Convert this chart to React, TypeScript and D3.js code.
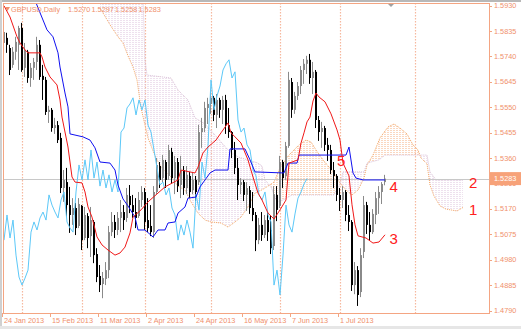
import React from "react";
import * as d3 from "d3";

// ---------- DATA ----------
const opens = [1.5790,1.5809,1.5771,1.5708,1.5757,1.5783,1.5846,1.5697,1.5757,1.5659,1.5697,1.5719,1.5783,1.5667,1.5652,1.5532,1.5540,1.5472,1.5483,1.5435,1.5248,1.5270,1.5184,1.5147,1.5173,1.5106,1.5181,1.5061,1.5143,1.5068,1.5121,1.5001,1.4919,1.4889,1.4908,1.4941,1.5083,1.5121,1.5091,1.5136,1.5158,1.5136,1.5218,1.5184,1.5158,1.5143,1.5203,1.5233,1.5128,1.5106,1.5083,1.5233,1.5330,1.5285,1.5345,1.5293,1.5383,1.5285,1.5345,1.5259,1.5315,1.5248,1.5293,1.5240,1.5278,1.5270,1.5457,1.5472,1.5547,1.5562,1.5585,1.5521,1.5577,1.5540,1.5577,1.5483,1.5457,1.5390,1.5323,1.5259,1.5270,1.5222,1.5240,1.5173,1.5147,1.5053,1.5110,1.5072,1.5128,1.5091,1.5031,1.5222,1.5181,1.5345,1.5293,1.5405,1.5644,1.5540,1.5592,1.5629,1.5689,1.5712,1.5727,1.5659,1.5682,1.5502,1.5457,1.5472,1.5409,1.5390,1.5315,1.5293,1.5222,1.5203,1.5233,1.5147,1.5121,1.4885,1.4941,1.4859,1.5009,1.5184,1.5110,1.5083,1.5147,1.5210,1.5233,1.5270];
const highs = [1.5846,1.5828,1.5783,1.5775,1.5813,1.5854,1.5865,1.5790,1.5764,1.5715,1.5734,1.5813,1.5801,1.5708,1.5663,1.5555,1.5547,1.5510,1.5498,1.5454,1.5315,1.5323,1.5252,1.5210,1.5192,1.5210,1.5184,1.5177,1.5154,1.5177,1.5128,1.5023,1.4960,1.4934,1.4971,1.5106,1.5158,1.5147,1.5158,1.5203,1.5184,1.5248,1.5259,1.5222,1.5210,1.5233,1.5255,1.5248,1.5210,1.5184,1.5255,1.5360,1.5345,1.5371,1.5353,1.5409,1.5398,1.5368,1.5360,1.5368,1.5330,1.5330,1.5308,1.5308,1.5293,1.5484,1.5510,1.5570,1.5585,1.5607,1.5592,1.5599,1.5585,1.5592,1.5596,1.5547,1.5461,1.5420,1.5360,1.5285,1.5278,1.5270,1.5255,1.5233,1.5158,1.5136,1.5158,1.5147,1.5158,1.5147,1.5255,1.5255,1.5368,1.5353,1.5420,1.5682,1.5659,1.5607,1.5644,1.5704,1.5730,1.5742,1.5749,1.5719,1.5689,1.5517,1.5495,1.5480,1.5435,1.5409,1.5345,1.5300,1.5248,1.5255,1.5240,1.5184,1.5128,1.4971,1.4956,1.5023,1.5218,1.5196,1.5158,1.5169,1.5233,1.5255,1.5270,1.5297];
const lows = [1.5753,1.5753,1.5670,1.5697,1.5727,1.5689,1.5682,1.5663,1.5641,1.5626,1.5652,1.5689,1.5652,1.5577,1.5521,1.5491,1.5458,1.5450,1.5416,1.5229,1.5196,1.5139,1.5080,1.5110,1.5072,1.5098,1.5016,1.5053,1.5023,1.4990,1.4967,1.4896,1.4859,1.4836,1.4885,1.4911,1.5068,1.5061,1.5072,1.5083,1.5091,1.5121,1.5154,1.5136,1.5098,1.5136,1.5177,1.5091,1.5083,1.5068,1.5061,1.5225,1.5248,1.5270,1.5248,1.5278,1.5263,1.5225,1.5233,1.5210,1.5222,1.5225,1.5210,1.5225,1.5199,1.5259,1.5398,1.5457,1.5487,1.5525,1.5498,1.5472,1.5510,1.5487,1.5450,1.5435,1.5360,1.5300,1.5203,1.5225,1.5199,1.5162,1.5151,1.5124,1.5012,1.5038,1.5050,1.5061,1.5050,1.5001,1.5016,1.5124,1.5173,1.5248,1.5278,1.5398,1.5510,1.5525,1.5577,1.5599,1.5637,1.5674,1.5637,1.5599,1.5472,1.5424,1.5398,1.5386,1.5349,1.5300,1.5248,1.5199,1.5162,1.5173,1.5124,1.5087,1.4863,1.4851,1.4807,1.4840,1.4986,1.5076,1.5050,1.5076,1.5113,1.5151,1.5188,1.5258];
const closes = [1.5831,1.5783,1.5689,1.5757,1.5794,1.5846,1.5689,1.5764,1.5659,1.5697,1.5719,1.5783,1.5663,1.5652,1.5532,1.5540,1.5472,1.5483,1.5427,1.5248,1.5278,1.5184,1.5147,1.5173,1.5098,1.5188,1.5053,1.5147,1.5061,1.5128,1.4997,1.4915,1.4885,1.4911,1.4941,1.5083,1.5121,1.5091,1.5136,1.5158,1.5128,1.5222,1.5184,1.5158,1.5136,1.5203,1.5233,1.5121,1.5098,1.5083,1.5233,1.5334,1.5278,1.5353,1.5278,1.5390,1.5285,1.5345,1.5255,1.5315,1.5248,1.5297,1.5233,1.5278,1.5233,1.5457,1.5472,1.5547,1.5562,1.5585,1.5521,1.5577,1.5540,1.5577,1.5483,1.5457,1.5390,1.5323,1.5259,1.5270,1.5222,1.5248,1.5173,1.5147,1.5053,1.5110,1.5072,1.5128,1.5083,1.5023,1.5225,1.5166,1.5345,1.5285,1.5405,1.5652,1.5540,1.5592,1.5629,1.5689,1.5712,1.5727,1.5659,1.5682,1.5502,1.5457,1.5472,1.5409,1.5390,1.5315,1.5293,1.5222,1.5203,1.5233,1.5147,1.5121,1.4885,1.4941,1.4848,1.4997,1.5184,1.5110,1.5083,1.5151,1.5210,1.5233,1.5263,1.5283];

// Ichimoku lines, read as [bar index, price]
const tenkan: [number, number][] = [[0,1.5929],[2,1.5887],[4.33,1.5813],[5.33,1.5790],[7,1.5764],[8,1.5753],[12,1.5753],[12.67,1.5738],[13.67,1.5700],[15.33,1.5663],[17.67,1.5633],[18.67,1.5577],[19.33,1.5513],[21.33,1.5401],[22.67,1.5289],[23.67,1.5270],[26,1.5267],[27,1.5233],[28,1.5177],[29.33,1.5139],[31,1.5065],[32.67,1.5035],[34.67,1.5016],[37,1.4997],[38.67,1.5005],[40.33,1.5027],[42,1.5080],[43,1.5139],[45.67,1.5166],[48,1.5196],[51.33,1.5229],[53.67,1.5252],[58,1.5278],[59,1.5315],[63.67,1.5304],[64.67,1.5326],[66.33,1.5379],[68,1.5401],[70.67,1.5427],[72.33,1.5454],[74.67,1.5491],[75.67,1.5454],[77,1.5439],[79,1.5416],[81.33,1.5353],[83,1.5289],[84.67,1.5229],[86,1.5203],[88,1.5154],[90,1.5132],[92,1.5166],[94,1.5203],[95,1.5341],[98,1.5353],[99,1.5416],[100,1.5454],[101,1.5495],[102,1.5513],[103,1.5573],[104,1.5603],[105,1.5588],[107,1.5570],[109,1.5525],[111,1.5465],[112,1.5427],[113,1.5341],[115,1.5293],[116,1.5185],[117,1.5110],[118,1.5069],[120.67,1.5061],[123,1.5042],[125,1.5046],[127,1.5073]];
const kijun: [number, number][] = [[10.67,1.5940],[14.33,1.5839],[16.33,1.5813],[18,1.5753],[18.67,1.5700],[20.33,1.5603],[21.33,1.5551],[22,1.5450],[26.33,1.5439],[28.67,1.5427],[30.33,1.5398],[32,1.5345],[35.33,1.5341],[37,1.5315],[38,1.5259],[39.67,1.5207],[41.33,1.5181],[43.67,1.5139],[44.67,1.5091],[47,1.5091],[49.67,1.5065],[51.33,1.5091],[53.67,1.5091],[54.67,1.5117],[57,1.5121],[58,1.5154],[60.33,1.5177],[61.33,1.5210],[64,1.5214],[65.33,1.5252],[67,1.5278],[68.67,1.5304],[70.33,1.5315],[74.67,1.5315],[75.33,1.5394],[80.33,1.5394],[82,1.5353],[83.67,1.5308],[93.33,1.5304],[94.67,1.5341],[97.67,1.5341],[98.33,1.5371],[114,1.5371],[115,1.5401],[116.33,1.5304],[117.33,1.5285],[119.67,1.5278],[127,1.5278]];
const spanA: [number, number][] = [[32,1.5921],[35.33,1.5858],[38,1.5813],[39.67,1.5790],[41.33,1.5742],[43,1.5700],[44.33,1.5652],[45.67,1.5547],[48,1.5435],[50.33,1.5368],[52.33,1.5326],[55.67,1.5289],[58,1.5255],[60.33,1.5240],[62.33,1.5196],[64.67,1.5154],[67,1.5128],[69,1.5121],[72.33,1.5117],[74.67,1.5102],[77,1.5121],[79,1.5139],[81.33,1.5177],[83.67,1.5229],[86,1.5241],[88,1.5255],[90,1.5270],[92,1.5323],[93,1.5341],[95,1.5371],[98.33,1.5409],[100.67,1.5427],[102.33,1.5420],[104,1.5390],[106.33,1.5353],[109.67,1.5308],[112,1.5267],[114,1.5240],[116,1.5222],[118,1.5240],[120,1.5285],[121,1.5334],[123,1.5371],[125.33,1.5435],[128,1.5476],[130,1.5487],[132,1.5472],[134.33,1.5450],[136.33,1.5409],[138,1.5390],[139,1.5360],[141,1.5338],[142,1.5259],[143.33,1.5218],[145.33,1.5181],[147.33,1.5169],[151,1.5162],[153,1.5175]];
const spanB: [number, number][] = [[32,1.5960],[46.33,1.5960],[47,1.5727],[47.67,1.5670],[55.67,1.5659],[58,1.5614],[61.33,1.5577],[63.67,1.5510],[67,1.5487],[70.33,1.5446],[74.67,1.5390],[78,1.5364],[84.67,1.5341],[86,1.5330],[87,1.5278],[89,1.5252],[91,1.5196],[93,1.5203],[96,1.5222],[110,1.5222],[111,1.5244],[112,1.5259],[113,1.5308],[120,1.5308],[121,1.5341],[125,1.5353],[127,1.5371],[141,1.5371],[142,1.5308],[144,1.5278],[153,1.5278]];
const chikouShift = 26;

const priceTicks = [1.4790,1.4885,1.4980,1.5075,1.5170,1.5265,1.5360,1.5455,1.5550,1.5645,1.5740,1.5835,1.5930];
const dateLabels = ["24 Jan 2013","15 Feb 2013","11 Mar 2013","2 Apr 2013","24 Apr 2013","16 May 2013","7 Jun 2013","1 Jul 2013"];
const dateBars = [0,16,32,48,64,80,96,112];
const monthBars = [6,26,47,69,92,112,137];
const symbolText = "GBPUSD,Daily";
const lastPrice = 1.5283;
const markers = [
  { text: "1", bar: 155, price: 1.5148 },
  { text: "2", bar: 155, price: 1.5247 },
  { text: "3", bar: 128.5, price: 1.5038 },
  { text: "4", bar: 128.5, price: 1.5232 },
  { text: "5", bar: 111, price: 1.5330 },
];

const W = 521, H = 329;
const L = 3, T = 3, R = 489, B = 313;
const FG = "#F4A582";
const TXT = "#F0906C";
const FONT = "'Liberation Sans', Arial, sans-serif";

export default function App() {
  const x = d3.scaleLinear().domain([0, 127]).range([4, 385]);
  const y = d3.scaleLinear().domain([1.479, 1.593]).range([310.5, 5.5]);

  const line = d3.line<[number, number]>().x(d => x(d[0])).y(d => y(d[1]));
  const chikou: [number, number][] = closes.slice(chikouShift).map((c, k) => [k, c]);

  const aPath = line(spanA) as string;
  const bRev = [...spanB].reverse();
  const cloudPath = aPath + "L" + (line(bRev) as string).slice(1) + "Z";
  const bPath = line(spanB) as string;
  const x0 = x(spanB[0][0]);
  const x1 = x(spanB[spanB.length - 1][0]);
  const aboveB = bPath + `L${x1},-50L${x0},-50Z`;
  const belowB = bPath + `L${x1},400L${x0},400Z`;

  const OHLC = [opens[127], highs[127], lows[127], closes[127]].map(v => v.toFixed(4));
  const ohlcX = [68, 91.5, 115, 138.5];

  return (
    <svg width={W} height={H} style={{ position: "absolute", left: 0, top: 0, background: "#fff" }}
      fontFamily={FONT}>
      <defs>
        <clipPath id="plotClip"><rect x={L} y={T} width={R - L} height={B - T} /></clipPath>
        <clipPath id="clipAbove"><path d={aboveB} /></clipPath>
        <clipPath id="clipBelow"><path d={belowB} /></clipPath>
        <pattern id="patOr" width={3} height={2} patternUnits="userSpaceOnUse" x={0.5} y={0}>
          <rect x={0} y={0} width={1} height={1} fill="#F5AE80" />
        </pattern>
        <pattern id="patPk" width={3} height={2} patternUnits="userSpaceOnUse" x={0.5} y={0}>
          <rect x={0} y={0} width={1} height={1} fill="#DCC2DC" />
        </pattern>
      </defs>
      <rect x={0} y={0} width={W} height={H} fill="#fff" />
      {/* window frame */}
      <rect x={0} y={0} width={W} height={2} fill="#B8B8B8" />
      <rect x={0} y={0} width={2} height={H} fill="#D0D0D0" />
      <rect x={0} y={326} width={W} height={3} fill="#E6E6E6" />

      <g clipPath="url(#plotClip)">
        {/* month separators */}
        {monthBars.map((b, i) => (
          <line key={i} x1={x(b) + 0.5} x2={x(b) + 0.5} y1={T} y2={B} stroke="#F6B89E" strokeWidth={1.2} strokeDasharray="1.5 1.5" />
        ))}
        {/* cloud */}
        <path d={cloudPath} fill="url(#patOr)" clipPath="url(#clipAbove)" />
        <path d={cloudPath} fill="url(#patPk)" clipPath="url(#clipBelow)" />
        <path d={aPath} fill="none" stroke="#F4A460" strokeWidth={1} strokeDasharray="1 1" />
        <path d={bPath} fill="none" stroke="#D8BFD8" strokeWidth={1} strokeDasharray="1 1" />
        {/* current price line */}
        <line x1={L} x2={R} y1={Math.round(y(lastPrice)) + 0.5} y2={Math.round(y(lastPrice)) + 0.5} stroke="#C8C8C8" strokeWidth={1} />
        {/* candles */}
        {opens.map((o, i) => {
          const c = closes[i];
          const up = c >= o;
          const col = up ? "#8A8A8A" : "#000000";
          const xi = x(i);
          const top = y(Math.max(o, c));
          const h = Math.max(1, Math.abs(y(o) - y(c)));
          return (
            <g key={i}>
              <line x1={xi - 0.5} x2={xi - 0.5} y1={y(highs[i])} y2={y(lows[i])} stroke={col} strokeWidth={1} />
              <rect x={xi - 1} y={top} width={2} height={h} fill={col} />
            </g>
          );
        })}
        {/* indicator lines */}
        <path d={line(chikou) as string} fill="none" stroke="#5CC8F8" strokeWidth={1} />
        <path d={line(kijun) as string} fill="none" stroke="#1010F0" strokeWidth={1} />
        <path d={line(tenkan) as string} fill="none" stroke="#F01818" strokeWidth={1} />
      </g>

      {/* frame */}
      <rect x={L + 0.5} y={T + 0.5} width={R - L} height={B - T} fill="none" stroke={FG} strokeWidth={1} />

      {/* header */}
      <path d="M5,7 L10,7 L7.5,11 Z" fill={TXT} />
      <text x={11} y={12} fontSize={7.3} fill={TXT}>{symbolText}</text>
      {OHLC.map((v, i) => (
        <text key={i} x={ohlcX[i]} y={12} fontSize={7.3} fill={TXT}>{v}</text>
      ))}
      {/* shift marker */}
      <path d="M388,4 L394,4 L391,7 Z" fill="#A0A0A0" />

      {/* price axis */}
      {priceTicks.map((p, i) => (
        <g key={i}>
          <line x1={R} x2={R + 3} y1={Math.round(y(p)) + 0.5} y2={Math.round(y(p)) + 0.5} stroke={FG} />
          <text x={494} y={y(p) + 2.6} fontSize={7.3} fill={TXT}>{p.toFixed(4)}</text>
        </g>
      ))}
      <rect x={490} y={y(lastPrice) - 6.5} width={31} height={13} fill="#F7A279" />
      <text x={494} y={y(lastPrice) + 2.6} fontSize={7.3} fill="#fff">{lastPrice.toFixed(4)}</text>

      {/* time axis */}
      {dateBars.map((b, i) => (
        <g key={i}>
          <line x1={x(b) - 1.5} x2={x(b) - 1.5} y1={B} y2={B + 4} stroke={FG} />
          <text x={x(b)} y={322.5} fontSize={7.3} fill={TXT}>{dateLabels[i]}</text>
        </g>
      ))}

      {/* numbered markers */}
      {markers.map((m, i) => (
        <text key={i} x={x(m.bar)} y={y(m.price)} fontSize={15} fill="#FF2020" fontFamily="'Liberation Sans', Arial, sans-serif">{m.text}</text>
      ))}
    </svg>
  );
}
